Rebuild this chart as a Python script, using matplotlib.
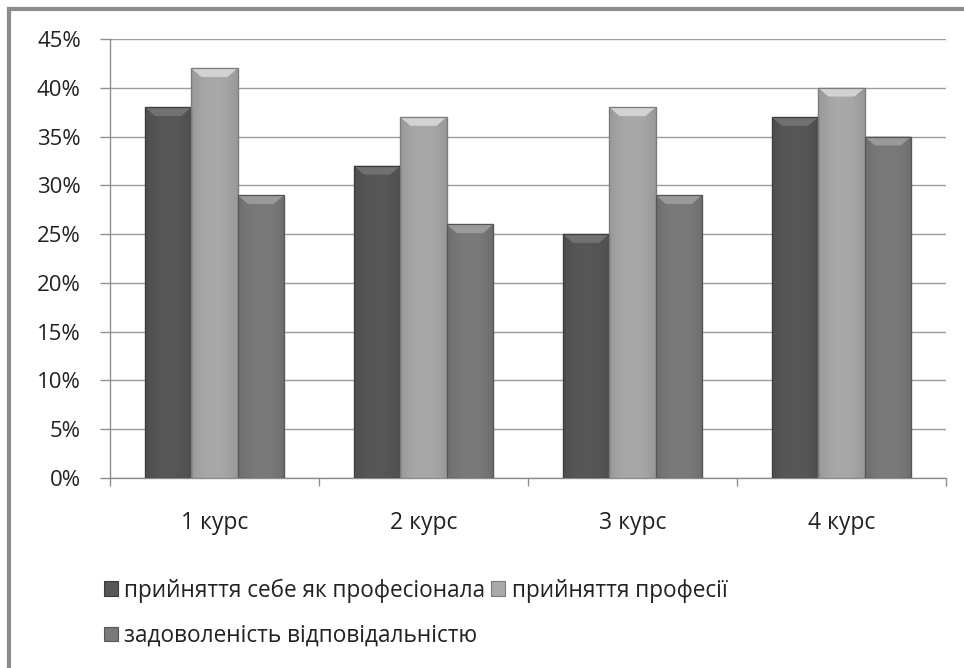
import matplotlib.pyplot as plt
import numpy as np
from matplotlib.patches import Polygon, Rectangle
from matplotlib.lines import Line2D
from matplotlib.ticker import FuncFormatter, FixedLocator

plt.rcParams['font.family'] = ['Open Sans', 'DejaVu Sans']

courses = ['1 курс', '2 курс', '3 курс', '4 курс']
series_names = ['прийняття себе як професіонала', 'прийняття професії',
                'задоволеність відповідальністю']
self_accept = [38, 32, 25, 37]
profession = [42, 37, 38, 40]
responsibility = [29, 26, 29, 35]

# base colour, edge colour per series
colors = ['#575757', '#a9a9a9', '#7a7a7a']
edges = ['#3c3c3c', '#7c7c7c', '#555555']

fig = plt.figure(figsize=(9.64, 6.68), dpi=100)
ax = fig.add_axes([0.1141, 0.2844, 0.8672, 0.6572])

x = np.arange(len(courses))
w = 0.222
handles = []
for i, vals in enumerate([self_accept, profession, responsibility]):
    bars = ax.bar(x + (i - 1) * w, vals, w, color=colors[i],
                  edgecolor=edges[i], linewidth=0.8, zorder=3,
                  label=series_names[i])
    handles.append(bars)
    base = np.array(plt.matplotlib.colors.to_rgb(colors[i]))
    for r in bars:
        bx, bw, bh = r.get_x(), r.get_width(), r.get_height()
        # soft horizontal shading across the bar
        t = np.linspace(0, 1, 64)
        shade = 1 - 0.10 * (2 * t - 1) ** 2
        img = np.clip(base[None, None, :] * shade[None, :, None], 0, 1)
        im = ax.imshow(img, extent=(bx, bx + bw, 0, bh), aspect='auto',
                       zorder=3.5, interpolation='bilinear')
        im.set_clip_path(r)
        # bevelled top
        bev = 0.9
        inset = bw * 0.22
        top = Polygon([[bx, bh], [bx + bw, bh], [bx + bw - inset, bh - bev],
                       [bx + inset, bh - bev]], closed=True,
                      facecolor=np.clip(base * 1.18 + 0.04, 0, 1),
                      edgecolor='none', zorder=4)
        ax.add_patch(top)
        ax.add_patch(Rectangle((bx, 0), bw, bh, fill=False,
                               edgecolor=edges[i], linewidth=0.9, zorder=5))

ax.set_xlim(-0.5, 3.5)
ax.set_ylim(0, 45)
ax.set_yticks(np.arange(0, 46, 5))
ax.yaxis.set_major_formatter(FuncFormatter(lambda v, p: f'{int(v)}%'))
ax.set_xticks(x)
ax.set_xticklabels(courses)
ax.xaxis.set_minor_locator(FixedLocator([-0.5, 0.5, 1.5, 2.5, 3.5]))
ax.tick_params(axis='x', which='major', length=0, pad=24, labelsize=16.5,
               labelcolor='#222222')
ax.tick_params(axis='x', which='minor', length=6, color='#8a8f93', width=1)
ax.tick_params(axis='y', length=7, color='#8a8f93', width=1, labelsize=16,
               labelcolor='#222222', pad=14)
ax.grid(axis='y', color='#a39a98', linewidth=1.0, zorder=0)
for s in ['top', 'right']:
    ax.spines[s].set_visible(False)
for s in ['left', 'bottom']:
    ax.spines[s].set_color('#8a8f93')
    ax.spines[s].set_linewidth(1.0)

order = [0, 2, 1]
leg = fig.legend([handles[k] for k in order], [series_names[k] for k in order],
                 ncol=2, loc='upper left', bbox_to_anchor=(0.098, 0.148),
                 frameon=False, fontsize=16.3, handlelength=0.62,
                 handleheight=0.62, handletextpad=0.3, columnspacing=0.25,
                 labelspacing=0.95, borderaxespad=0)
for t in leg.get_texts():
    t.set_color('#222222')

# frame lines along the top and left edge
fig.add_artist(Line2D([0.009, 1.0], [0.987, 0.987], color='#8c8c8c',
                      linewidth=3, transform=fig.transFigure))
fig.add_artist(Line2D([0.0095, 0.0095], [0.0, 0.987], color='#8c8c8c',
                      linewidth=3, transform=fig.transFigure))

fig.savefig('out.png', dpi=100)
